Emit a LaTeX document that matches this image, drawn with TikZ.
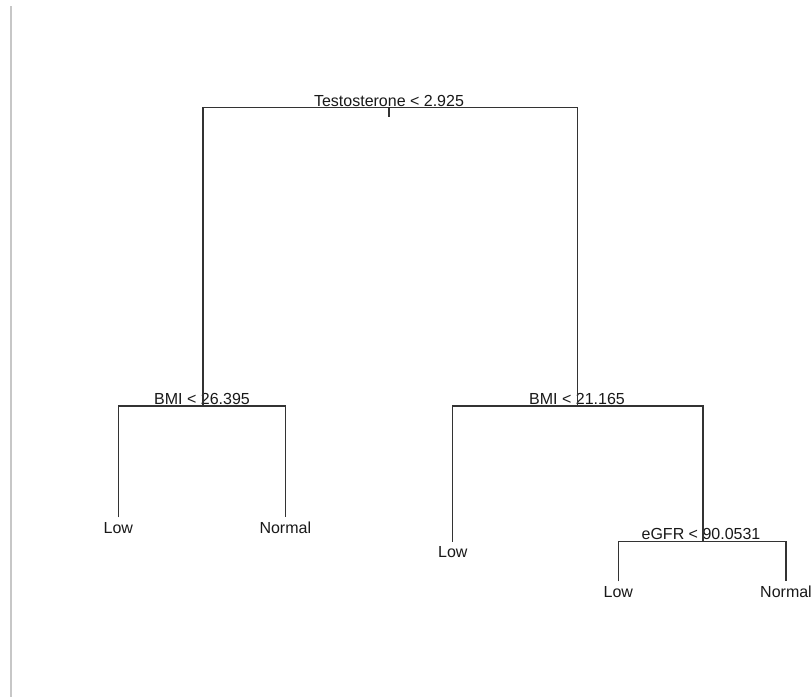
\documentclass[tikz,border=0pt]{standalone}
\usepackage{fontspec}
\setmainfont{Liberation Sans}
\begin{document}
\begin{tikzpicture}[x=0.75pt,y=-0.75pt,
  edge/.style={draw=black!80, line width=1pt},
  splitlbl/.style={anchor=base, inner sep=0pt, text=black!90, font=\fontsize{12}{14}\selectfont},
  leaf/.style={anchor=base, inner sep=0pt, text height=11.6pt, text depth=0pt, text=black!90, font=\fontsize{12}{14}\selectfont}]
\fill[white] (0,0) rectangle (811,697);
\useasboundingbox (0,0) rectangle (811,697);
\draw[black!22, line width=0.9pt] (11,6) -- (11,697);
% split points
\coordinate (r) at (389,107.5);
\coordinate (b1) at (203,406);
\coordinate (b2) at (577.5,406);
\coordinate (e) at (703,541.5);
% split labels
\node[splitlbl] (rl) at (389,106) {Testosterone < 2.925};
\node[splitlbl] (b1l) at (202,404.8) {BMI < 26.395};
\node[splitlbl] (b2l) at (577,404.8) {BMI < 21.165};
\node[splitlbl] (el) at (701,539.8) {eGFR < 90.0531};
% leaves
\node[leaf] (lowA) at (118.3,533) {Low};
\node[leaf] (normA) at (285.3,533) {Normal};
\node[leaf] (lowB) at (452.8,557.5) {Low};
\node[leaf] (lowC) at (618.3,597) {Low};
\node[leaf] (normC) at (786,597) {Normal};
% connectors
\draw[edge] (b1) |- (r) -| (b2);
\draw[edge] (r) -- ++(0,9);
\draw[edge] (lowA.north) |- (b1) -| (normA.north);
\draw[edge] (lowB.north) |- (b2) -| (e);
\draw[edge] (lowC.north) |- (e) -| (normC.north);
\end{tikzpicture}
\end{document}
